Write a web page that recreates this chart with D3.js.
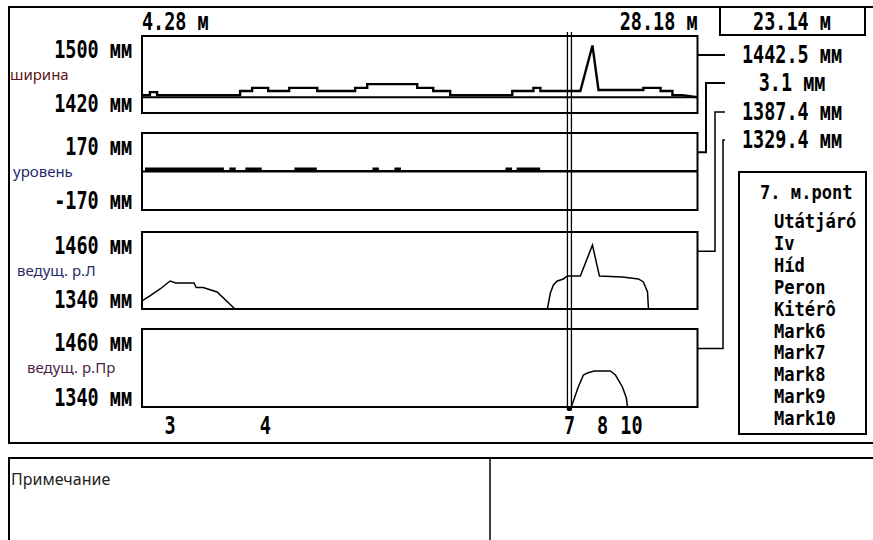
<!DOCTYPE html>
<html>
<head>
<meta charset="utf-8">
<script src="https://cdn.jsdelivr.net/npm/d3@7"></script>
<style>
  body { margin: 0; background: #fff; }
  svg { display: block; }
  .mono { font-family: "DejaVu Sans Mono", monospace; font-size: 24px; font-weight: bold; fill: #000; }
  .leg { font-family: "DejaVu Sans Mono", monospace; font-size: 19px; font-weight: bold; fill: #000; }
  .name { font-family: "Noto Sans", "DejaVu Sans", sans-serif; font-size: 15px; }
</style>
</head>
<body>
<svg id="chart" width="873" height="540"></svg>
<script>
// track section limits and cursor (m)
const startPos = 4.28, endPos = 28.18, cursorPos = 22.67;
const startLabel = "4.28 м", endLabel = "28.18 м", cursorLabel = "23.14 м";

// panels
const panelNames = ["ширина", "уровень", "ведущ. р.Л", "ведущ. р.Пр"];
const panelColors = ["#5c1414", "#1f2a6e", "#2b2a68", "#4a1f46"];
const topTicks = ["1500 мм", "170 мм", "1460 мм", "1460 мм"];
const bottomTicks = ["1420 мм", "-170 мм", "1340 мм", "1340 мм"];
const domains = [[1420, 1500], [-170, 170], [1340, 1460], [1340, 1460]];
const refLevels = [1435, 0, null, null];
const readouts = ["1442.5 мм", "3.1 мм", "1387.4 мм", "1329.4 мм"];

// markers along the track
const markerNames = ["3", "4", "7", "8", "10"];
const markerPos = [5.49, 9.58, 22.67, 24.09, 25.34];

// legend
const legendTitle = "7. м.pont";
const legendItems = ["Utátjáró", "Iv", "Híd", "Peron", "Kitérô", "Mark6", "Mark7", "Mark8", "Mark9", "Mark10"];

// ширина (gauge), mm
const widthPos = [4.28, 4.62, 4.62, 4.93, 4.93, 8.50, 8.50, 9.02, 9.02, 9.71, 9.71, 10.61, 10.61, 11.82, 11.82,
  13.45, 13.45, 13.97, 13.97, 16.12, 16.12, 16.81, 16.81, 17.54, 17.54, 20.21, 20.21, 21.12, 21.12, 21.42, 21.42,
  23.14, 23.66, 23.92, 25.85, 25.85, 26.59, 26.59, 27.10, 27.10, 27.53, 28.09, 28.18];
const widthVal = [1437.3, 1437.3, 1440.5, 1440.5, 1437.3, 1437.3, 1441.7, 1441.7, 1445, 1445, 1441.7, 1441.7, 1445, 1445, 1441.7,
  1441.7, 1445, 1445, 1449, 1449, 1445, 1445, 1441.7, 1441.7, 1437.3, 1437.3, 1441.7, 1441.7, 1445, 1445, 1441.7,
  1441.7, 1490, 1442.8, 1442.8, 1445, 1445, 1441.7, 1441.7, 1437.3, 1437.3, 1435.4, 1435.4];

// уровень (cross level), mm
const levelPos = [4.41, 7.77, 7.77, 8.07, 8.07, 8.28, 8.28, 8.76, 8.76, 9.40, 9.40, 10.87, 10.87, 11.77, 11.77,
  14.23, 14.23, 14.44, 14.44, 15.17, 15.17, 15.39, 15.39, 19.95, 19.95, 20.17, 20.17, 20.43, 20.43, 21.38, 21.38, 28.18];
const levelVal = [14, 14, 3, 3, 14, 14, 3, 3, 14, 14, 3, 3, 14, 14, 3,
  3, 14, 14, 3, 3, 14, 14, 3, 3, 14, 14, 3, 3, 14, 14, 3, 3];

// ведущ. р.Л, mm (null = no reading)
const leftPos = [4.28, 4.62, 5.06, 5.49, 5.74, 6.52, 6.61, 6.91, 7.51, 8.28, 8.30,
  21.72, 21.85, 21.98, 22.15, 22.41, 22.58, 23.14, 23.66, 23.96, 24.95, 25.64, 25.85, 26.03, 26.07];
const leftVal = [1352.5, 1360.3, 1371.2, 1383.6, 1380.5, 1380.5, 1373.5, 1373.5, 1366.5, 1340, null,
  1340, 1364.9, 1377.4, 1383.6, 1386.8, 1391.4, 1391.4, 1439.7, 1391.4, 1389.9, 1386.8, 1382.1, 1366.5, 1340];

// ведущ. р.Пр, mm
const rightPos = [22.75, 23.05, 23.27, 23.44, 23.74, 24.43, 24.65, 24.95, 25.12, 25.17];
const rightVal = [1340, 1370.8, 1389.2, 1392.3, 1395.4, 1395.4, 1389.2, 1370.8, 1353.8, 1340];

const series = [
  d3.zip(widthPos, widthVal),
  d3.zip(levelPos, levelVal),
  d3.zip(leftPos, leftVal),
  d3.zip(rightPos, rightVal)
];

// layout
const plotL = 142, plotR = 697.5;
const tops = [36, 133, 232, 329], bottoms = [113, 210, 309, 407];
const pads = [1.5, 0, 0, 0];
const nameX = [10, 13, 17, 27];

const svg = d3.select("#chart");
const x = d3.scaleLinear().domain([startPos, endPos]).range([plotL, plotR]);

function mono(g, px, py, str, anchor, cls, sx) {
  return g.append("text").attr("class", cls || "mono")
    .attr("transform", "translate(" + px + "," + py + ") scale(" + (sx || 0.77) + ",1)")
    .attr("text-anchor", anchor || "start")
    .text(str);
}

// outer frame + lower notes box
svg.append("rect").attr("x", 9).attr("y", 7).attr("width", 880).attr("height", 436)
  .attr("fill", "none").attr("stroke", "#000").attr("stroke-width", 2);
svg.append("rect").attr("x", 9).attr("y", 458).attr("width", 880).attr("height", 100)
  .attr("fill", "none").attr("stroke", "#000").attr("stroke-width", 2);
svg.append("line").attr("x1", 490).attr("x2", 490).attr("y1", 458).attr("y2", 540)
  .attr("stroke", "#000").attr("stroke-width", 1.5);
svg.append("text").attr("class", "name").attr("x", 11).attr("y", 485)
  .style("font-size", "16px").attr("fill", "#222").text("Примечание");

// top labels
mono(svg, x(startPos), 30, startLabel, "start");
mono(svg, x(endPos), 30, endLabel, "end");
svg.append("rect").attr("x", 720).attr("y", 7).attr("width", 145).attr("height", 28)
  .attr("fill", "none").attr("stroke", "#000").attr("stroke-width", 2);
mono(svg, 792, 30, cursorLabel, "middle");

const readY = [55, 83, 112, 140];
const connX = [725, 706, 715, 723];

panelNames.forEach(function(name, i) {
  const y = d3.scaleLinear().domain(domains[i]).range([bottoms[i] - pads[i], tops[i]]);
  const g = svg.append("g");

  g.append("rect").attr("x", plotL).attr("y", tops[i])
    .attr("width", plotR - plotL).attr("height", bottoms[i] - tops[i])
    .attr("fill", "none").attr("stroke", "#000").attr("stroke-width", 2);

  if (refLevels[i] !== null) {
    g.append("line").attr("x1", plotL).attr("x2", plotR)
      .attr("y1", y(refLevels[i])).attr("y2", y(refLevels[i]))
      .attr("stroke", "#000").attr("stroke-width", 2);
  }

  if (i === 1) {
    // level readings drawn as filled blocks over the zero line
    const area = d3.area()
      .x(function(d) { return x(d[0]); })
      .y0(y(0))
      .y1(function(d) { return y(d[1]); });
    g.append("path").datum(series[i]).attr("d", area).attr("fill", "#000");
  }

  const line = d3.line()
    .defined(function(d) { return d[1] !== null; })
    .x(function(d) { return x(d[0]); })
    .y(function(d) { return y(d[1]); });

  g.append("path").datum(series[i]).attr("d", line)
    .attr("fill", "none").attr("stroke", "#000")
    .attr("stroke-width", i === 0 ? 2.4 : 1.5);

  // tick labels + name
  mono(g, 132, tops[i] + 22, topTicks[i], "end");
  mono(g, 132, bottoms[i] - 1, bottomTicks[i], "end");
  g.append("text").attr("class", "name").attr("x", nameX[i])
    .attr("y", (tops[i] + bottoms[i]) / 2 + 5)
    .attr("fill", panelColors[i]).text(name);

  // connector to readout
  const cy = tops[i] + (bottoms[i] - tops[i]) / 4;
  const pts = i === 0 ? [[plotR, readY[0]], [725, readY[0]]]
    : [[plotR, cy], [connX[i], cy], [connX[i], readY[i]], [725, readY[i]]];
  g.append("path").attr("d", d3.line()(pts))
    .attr("fill", "none").attr("stroke", "#000").attr("stroke-width", i < 2 ? 2 : 1.5);
  mono(g, 792, readY[i] + 8, readouts[i], "middle");
});

// cursor (double line)
[-2, 2].forEach(function(dx) {
  svg.append("line").attr("x1", x(cursorPos) + dx).attr("x2", x(cursorPos) + dx)
    .attr("y1", 32).attr("y2", 410).attr("stroke", "#000").attr("stroke-width", 1.3);
});
svg.append("rect").attr("x", x(cursorPos) - 2).attr("y", 406).attr("width", 4).attr("height", 5).attr("fill", "#000");

// marker numbers
markerNames.forEach(function(m, i) {
  mono(svg, x(markerPos[i]), 434, m, "middle");
});

// legend
svg.append("rect").attr("x", 739).attr("y", 172).attr("width", 127).attr("height", 262)
  .attr("fill", "none").attr("stroke", "#000").attr("stroke-width", 2);
mono(svg, 760, 199, legendTitle, "start", "leg", 0.9);
legendItems.forEach(function(t, i) {
  mono(svg, 774, 228 + i * 21.9, t, "start", "leg", 0.9);
});
</script>
</body>
</html>
